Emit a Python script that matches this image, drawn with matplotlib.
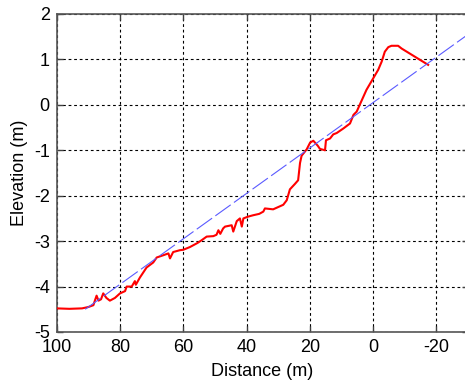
import numpy as np
import matplotlib
matplotlib.use('Agg')
from matplotlib import pyplot as plt

# measured profile (red) and fitted slope (blue dashed)
profile_dist = [100, 96, 92, 90, 88.4, 87.9, 87.4, 86.8, 86.0, 85.3, 84.3, 83.2, 81.6, 80,
                78.4, 77.9, 76.3, 75.3, 75.0, 73.7, 71.6, 69.5, 68.4, 66.3, 64.7, 64.2, 63.2,
                61.1, 60, 57.9, 55.5, 54.2, 52.6, 50.5, 49.5, 48.9, 48.3, 47.4, 46.8, 44.7,
                44.2, 43.1, 42.1, 41.5, 41.0, 39.5, 37.9, 36, 34.7, 34.2, 31.6, 28.4, 27.3,
                26.3, 24.7, 23.7, 23.1, 22.6, 21.0, 19.9, 18.9, 17.5, 16.8, 15.2, 14.9, 13.6,
                12.6, 11.5, 9.4, 7.3, 6.2, 5.2, 2.1, 0, -1.6, -2.7, -3.2, -3.7, -4.8, -5.8,
                -7.9, -9.0, -17.4]
profile_elev = [-4.48, -4.49, -4.48, -4.45, -4.41, -4.3, -4.2, -4.31, -4.28, -4.15, -4.25, -4.31,
                -4.25, -4.15, -4.1, -4.0, -4.0, -3.88, -3.96, -3.8, -3.58, -3.47, -3.36, -3.31,
                -3.27, -3.38, -3.24, -3.2, -3.19, -3.13, -3.04, -2.98, -2.9, -2.89, -2.86, -2.76,
                -2.84, -2.72, -2.68, -2.65, -2.79, -2.56, -2.5, -2.68, -2.5, -2.46, -2.43, -2.4,
                -2.35, -2.28, -2.3, -2.2, -2.1, -1.86, -1.74, -1.66, -1.28, -1.12, -0.98, -0.83,
                -0.79, -0.9, -0.97, -1.0, -0.78, -0.74, -0.65, -0.62, -0.52, -0.41, -0.22, -0.15,
                0.33, 0.58, 0.77, 0.95, 1.06, 1.17, 1.27, 1.30, 1.30, 1.24, 0.88]

fit_dist = [91, -30]
fit_elev = [-4.5, 1.55]

xticks = [100, 80, 60, 40, 20, 0, -20]
yticks = [2, 1, 0, -1, -2, -3, -4, -5]

plt.rcParams['font.family'] = ['Liberation Sans', 'DejaVu Sans']
plt.rcParams['axes.unicode_minus'] = False

fig = plt.figure(figsize=(4.65, 3.82), dpi=100)
ax = fig.add_axes([0.122, 0.1309, 0.8845, 0.8325])

ax.plot(profile_dist, profile_elev, color='#ff0000', lw=1.5, zorder=3)
ax.plot(fit_dist, fit_elev, color='#5a5aff', lw=0.8, dashes=[17, 3.6], zorder=4)

ax.set_xlim(100, -30)
ax.set_ylim(-5, 2)
ax.set_xticks(xticks)
ax.set_yticks(yticks)
ax.grid(True, color='k', linestyle=(0, (2.5, 2.5)), lw=0.8)

ax.tick_params(direction='in', length=4, width=1, colors='#404040', labelcolor='k',
               labelsize=13, top=True, right=True, pad=5)
for s in ax.spines.values():
    s.set_color('#555555')
    s.set_linewidth(1.2)

ax.set_xlabel('Distance (m)', fontsize=13, labelpad=5)
ax.set_ylabel('Elevation (m)', fontsize=13, labelpad=4)

fig.savefig('out.png', dpi=100)
